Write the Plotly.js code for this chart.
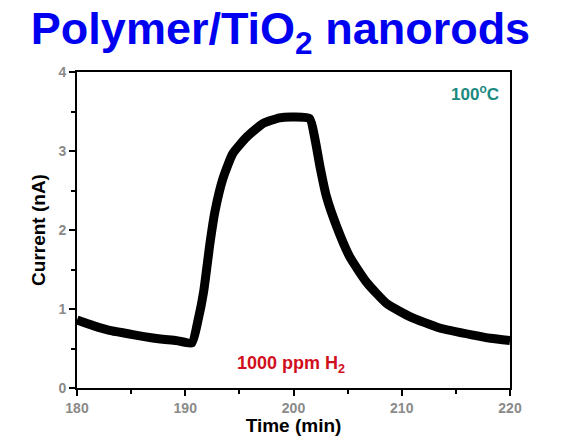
<!DOCTYPE html>
<html>
<head>
<meta charset="utf-8">
<script src="https://cdn.plot.ly/plotly-3.0.1.min.js"></script>
<style>html,body{margin:0;padding:0;background:#fff;}#chart{width:561px;height:436px;}</style>
</head>
<body>
<div id="chart"></div>
<script>
var timeMin = [180, 181.5, 183.0, 184.6, 186.2, 187.7, 189.2, 190.6, 191.2, 191.7, 192.3, 192.75, 193.5, 194.4, 195.7, 197.2, 198.7, 200.1, 201.5, 202.0, 202.45, 203.05, 204.0, 205.2, 206.8, 208.6, 210.8, 213.5, 216.6, 218.2, 220.0];
var currentNA = [0.86, 0.79, 0.73, 0.69, 0.65, 0.62, 0.60, 0.57, 0.87, 1.22, 1.85, 2.24, 2.66, 2.97, 3.18, 3.35, 3.42, 3.43, 3.41, 3.14, 2.80, 2.42, 2.04, 1.66, 1.33, 1.07, 0.90, 0.76, 0.67, 0.63, 0.60];
var xTicks = [180, 190, 200, 210, 220];
var yTicks = [0, 1, 2, 3, 4];

var trace = {
  x: timeMin, y: currentNA, type: 'scatter', mode: 'lines',
  line: {color: '#000', width: 9, shape: 'spline', smoothing: 0.5},
  hoverinfo: 'skip'
};

var FAM = 'Arial, Liberation Sans, sans-serif';
var tickFont = {family: FAM, size: 14, color: '#8a8a8a', weight: 'bold'};
var titleFont = {family: FAM, size: 19, color: '#000', weight: 'bold'};

var layout = {
  width: 561, height: 436,
  margin: {l: 77, r: 51, t: 72, b: 48},
  paper_bgcolor: '#fff', plot_bgcolor: '#fff',
  showlegend: false,
  title: {
    text: '<b>Polymer/TiO<sub>2</sub> nanorods</b>',
    font: {family: FAM, size: 45, color: '#0000f0'},
    x: 0.5, xanchor: 'center', y: 0.935, yanchor: 'middle'
  },
  xaxis: {
    range: [180, 220], tickvals: xTicks, ticktext: xTicks.map(String),
    ticks: 'outside', ticklen: 6, tickwidth: 2, tickcolor: '#000',
    minor: {dtick: 5, ticks: 'outside', ticklen: 4, tickwidth: 2, tickcolor: '#000', showgrid: false},
    showline: true, linecolor: '#000', linewidth: 2, mirror: true,
    showgrid: false, zeroline: false, tickfont: tickFont,
    title: {text: 'Time (min)', font: titleFont, standoff: 0}
  },
  yaxis: {
    range: [0, 4], tickvals: yTicks, ticktext: yTicks.map(String),
    ticks: 'outside', ticklen: 6, tickwidth: 2, tickcolor: '#000',
    minor: {dtick: 0.5, ticks: 'outside', ticklen: 4, tickwidth: 2, tickcolor: '#000', showgrid: false},
    showline: true, linecolor: '#000', linewidth: 2, mirror: true,
    showgrid: false, zeroline: false, tickfont: tickFont,
    title: {text: 'Current (nA)', font: titleFont, standoff: 8}
  },
  annotations: [
    {xref: 'paper', yref: 'paper', x: 0.98, y: 0.975, xanchor: 'right', yanchor: 'top', showarrow: false,
     text: '<b>100<sup>o</sup>C</b>', font: {family: FAM, size: 17, color: '#1a8a80'}},
    {xref: 'paper', yref: 'paper', x: 0.495, y: 0.075, xanchor: 'center', yanchor: 'middle', showarrow: false,
     text: '<b>1000 ppm H<sub>2</sub></b>', font: {family: FAM, size: 18, color: '#d0101c'}}
  ]
};

Plotly.newPlot('chart', [trace], layout, {displayModeBar: false, staticPlot: true});
</script>
</body>
</html>
